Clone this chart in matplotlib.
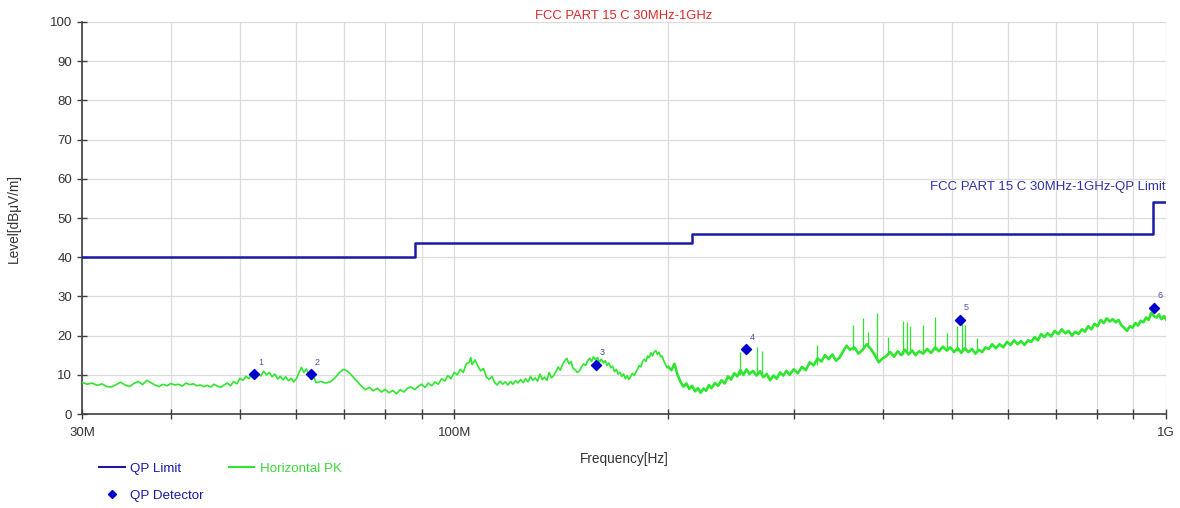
import numpy as np
import matplotlib.pyplot as plt
from matplotlib.lines import Line2D
from matplotlib.ticker import FixedLocator, NullFormatter

plt.rcParams['font.family'] = ['Liberation Sans', 'DejaVu Sans']

# limit line (MHz, dBuV/m)
limit_freq = [30, 88, 216, 960, 1000]
limit_level = [40, 43.5, 46, 54, 54]

# horizontal peak trace, 30M - 200M
pk_freq_lo = [30.0, 30.5, 31.0, 31.5, 32.0, 32.5, 33.0, 33.5, 34.0, 34.5, 35.0, 35.5,
              36.0, 36.5, 37.0, 37.5, 38.0, 38.5, 39.0, 39.5, 40.0, 40.5, 41.0, 41.5,
              42.0, 42.5, 43.0, 43.5, 44.0, 44.5, 45.0, 45.5, 46.0, 46.5, 47.0, 47.5,
              48.0, 48.5, 49.0, 49.5, 50.0, 50.5, 51.0, 51.5, 52.0, 52.5, 53.0, 53.5,
              54.0, 54.5, 55.0, 55.5, 56.0, 56.5, 57.0, 57.5, 58.0, 58.5, 59.0, 59.5,
              60.0, 60.5, 61.0, 61.5, 62.0, 62.5, 63.0, 63.5, 64.0, 65.0, 66.0, 67.0,
              68.0, 69.0, 70.0, 71.0, 72.0, 73.0, 74.0, 75.0, 76.0, 77.0, 78.0, 79.0,
              80.0, 81.0, 82.0, 83.0, 84.0, 85.0, 86.0, 87.0, 88.0, 89.0, 90.0, 91.0,
              92.0, 93.0, 94.0, 95.0, 96.0, 97.0, 98.0, 99.0, 100.0, 101.0, 102.0, 103.0,
              104.0, 105.0, 105.5, 106.0, 107.0, 108.0, 109.0, 110.0, 111.0, 112.0, 113.0,
              114.0, 115.0, 116.0, 117.0, 118.0, 119.0, 120.0, 121.0, 122.0, 123.0, 124.0,
              125.0, 126.0, 127.0, 128.0, 129.0, 130.0, 131.0, 132.0, 133.0, 134.0, 135.0,
              136.0, 137.0, 138.0, 139.0, 140.0, 141.0, 142.0, 143.0, 144.0, 145.0, 146.0,
              147.0, 148.0, 149.0, 150.0, 151.0, 152.0, 153.0, 154.0, 155.0, 156.0, 157.0,
              158.0, 159.0, 160.0, 161.0, 162.0, 163.0, 164.0, 165.0, 166.0, 167.0, 168.0,
              169.0, 170.0, 171.0, 172.0, 173.0, 174.0, 175.0, 176.0, 177.0, 178.0, 179.0,
              180.0, 181.0, 182.0, 183.0, 184.0, 185.0, 186.0, 187.0, 188.0, 189.0, 190.0,
              191.0, 192.0, 193.0, 194.0, 195.0, 196.0, 197.0, 198.0, 199.0, 200.0]
pk_level_lo = [8.1, 7.6, 7.9, 7.3, 7.7, 7.0, 6.9, 7.5, 8.1, 7.4, 7.0, 7.8,
               8.3, 7.5, 8.6, 8.0, 7.4, 7.0, 7.6, 7.2, 7.8, 7.4, 7.6, 7.1,
               7.9, 7.5, 7.7, 7.2, 7.4, 7.0, 7.3, 6.9, 7.6, 7.1, 6.8, 7.4,
               7.9, 7.2, 8.3, 7.7, 9.1, 8.6, 9.6, 9.0, 10.2, 9.4, 10.4, 9.7,
               10.9, 10.0, 10.6, 9.5, 10.2, 8.9, 9.6, 8.7, 9.5, 8.5, 9.1, 8.2,
               9.0, 10.4, 11.9, 10.6, 11.5, 10.0, 8.8, 9.4, 8.0, 8.3, 7.9, 8.2,
               9.2, 10.6, 11.4, 10.8, 9.6, 8.4, 7.2, 6.2, 6.8, 5.9, 6.6, 5.6,
               6.3, 5.4, 6.0, 5.2, 6.2, 5.6, 6.6, 6.9, 6.2, 7.0, 7.6, 6.8,
               7.9, 7.2, 8.2, 7.6, 9.0, 8.4, 9.8, 9.0, 10.6, 10.0, 11.4, 10.6,
               12.8, 13.2, 14.4, 12.6, 13.8, 12.2, 11.0, 11.6, 9.4, 8.8, 9.6,
               8.0, 7.4, 8.4, 7.6, 8.2, 7.4, 8.3, 7.6, 8.5, 7.9, 8.8,
               8.0, 9.0, 8.2, 9.6, 8.6, 9.2, 8.4, 10.2, 8.8, 9.4, 8.6,
               10.6, 9.2, 9.8, 10.8, 12.0, 11.2, 12.6, 13.6, 14.2, 12.8, 13.4,
               11.6, 11.2, 10.6, 11.0, 12.0, 12.8, 12.4, 13.6, 14.2, 13.4, 14.6,
               13.8, 14.4, 13.2, 14.0, 13.0, 13.6, 12.4, 13.0, 11.8, 12.2, 10.8,
               11.4, 10.2, 10.6, 9.6, 10.2, 9.0, 9.8, 8.8, 9.6, 10.4, 9.8,
               10.6, 11.4, 12.4, 12.0, 13.4, 14.0, 13.4, 14.8, 14.4, 15.6, 14.8,
               15.8, 16.2, 15.2, 15.8, 14.6, 14.8, 13.6, 12.8, 11.8, 12.0]

# horizontal peak trace, 200M - 1G
pk_freq_hi = [200, 202, 204, 206, 208, 210, 212, 214, 216, 218, 220, 222, 224, 226, 228,
              230, 232.5, 235, 237.5, 240, 242.5, 245, 247.5, 250, 252.5, 255, 257.5, 260,
              263, 266, 269, 272, 275, 278, 281, 284, 287, 290, 293, 296, 300, 304, 308,
              312, 316, 320, 324, 328, 332, 336, 340, 344, 348, 352, 356, 360, 365, 370,
              375, 380, 385, 390, 395, 400, 405, 410, 415, 420, 425, 430, 435, 440, 445,
              450, 456, 462, 468, 474, 480, 486, 492, 498, 504, 510, 516, 522, 528, 534,
              540, 546, 552, 558, 564, 570, 577, 584, 591, 598, 605, 612, 619, 626, 633,
              640, 647, 654, 661, 668, 675, 682, 690, 698, 706, 714, 722, 730, 738, 746,
              754, 762, 770, 778, 786, 794, 802, 810, 818, 826, 834, 842, 850, 858, 866,
              874, 882, 890, 898, 906, 914, 922, 930, 938, 946, 954, 962, 970, 978, 986,
              994, 1000]
pk_level_hi = [12.0, 11.2, 12.8, 10.0, 8.2, 7.0, 7.8, 6.4, 7.2, 5.8, 6.6, 5.4, 6.5, 5.9, 7.4,
               6.6, 7.9, 7.2, 8.6, 7.8, 9.6, 8.8, 10.4, 9.6, 11.2, 10.0, 11.4, 10.2,
               11.0, 9.8, 10.9, 9.4, 10.2, 8.6, 9.8, 9.0, 10.6, 9.8, 11.0, 10.0, 11.4, 10.4, 12.0,
               11.2, 13.2, 12.4, 14.2, 13.4, 15.0, 14.0, 15.2, 13.6, 14.4, 16.0, 17.4, 16.4, 17.0, 15.4,
               16.4, 17.8, 16.6, 15.0, 13.2, 14.2, 14.8, 15.8, 14.6, 16.0, 15.0, 16.4, 15.2, 16.2, 15.0,
               16.0, 15.4, 16.6, 15.6, 17.0, 16.0, 17.2, 16.2, 17.0, 15.8, 16.8, 15.6, 16.8, 15.8, 16.6,
               15.4, 16.4, 15.8, 17.0, 16.6, 17.8, 16.8, 17.8, 17.0, 18.4, 17.6, 18.8, 17.8, 18.6, 17.6,
               18.8, 18.4, 19.6, 18.8, 20.4, 19.6, 20.6, 19.8, 21.2, 20.4, 21.6, 20.6, 21.2, 20.0, 21.0,
               20.4, 21.6, 21.0, 22.4, 21.6, 23.0, 22.4, 24.0, 23.2, 24.4, 23.6, 24.2, 23.4, 24.0, 22.6,
               22.0, 21.2, 22.4, 22.0, 23.2, 22.6, 23.8, 23.4, 24.6, 24.0, 25.8, 25.0, 24.6, 25.4, 24.2,
               25.0, 24.2]

# narrow peaks above the trace
spike_freq = [252, 266, 271, 323, 363, 375, 381, 393, 407, 427, 433, 437,
              456, 474, 492, 508, 517, 522, 543]
spike_base = [10.0, 10.4, 10.0, 12.6, 16.4, 16.8, 17.2, 13.8, 15.0, 15.4, 15.8, 15.8,
              15.8, 16.4, 16.2, 16.0, 16.2, 16.4, 16.0]
spike_top = [15.9, 17.0, 16.2, 17.6, 22.6, 24.4, 21.0, 25.7, 19.7, 23.7, 23.6, 22.5,
             22.7, 24.8, 20.6, 22.5, 23.5, 22.7, 19.4]

# QP detector readings
qp_freq = [52.4, 62.9, 158.2, 257.0, 513.0, 961.0]
qp_level = [10.1, 10.1, 12.5, 16.5, 24.1, 27.0]
qp_label = ['1', '2', '3', '4', '5', '6']

green = '#2fe62f'
blue = '#1a1aa6'

fig = plt.figure(figsize=(11.8, 5.08), dpi=100)
ax = fig.add_axes([0.0695, 0.185, 0.9185, 0.7717])

ax.plot(pk_freq_lo, pk_level_lo, color=green, lw=1.2, zorder=3)
ax.plot(pk_freq_hi, pk_level_hi, color=green, lw=1.9, zorder=3)
ax.vlines(spike_freq, spike_base, spike_top, color=green, lw=0.9, zorder=3)
ax.step(limit_freq, limit_level, where='post', color=blue, lw=1.8, zorder=4)
ax.scatter(qp_freq, qp_level, marker='D', s=26, color='#0000cc', zorder=5)
for f, l, t in zip(qp_freq, qp_level, qp_label):
    ax.annotate(t, (f, l), xytext=(3, 7), textcoords='offset points',
                fontsize=6.5, color='#5050b0')

ax.text(1000, 57.8, 'FCC PART 15 C 30MHz-1GHz-QP Limit', color='#3030a8',
        fontsize=9.5, ha='right', va='center')

ax.set_xscale('log')
ax.set_xlim(30, 1000)
ax.set_ylim(0, 100)
ax.xaxis.set_major_locator(FixedLocator([30, 100, 1000]))
ax.set_xticklabels(['30M', '100M', '1G'])
ax.xaxis.set_minor_locator(FixedLocator([40, 50, 60, 70, 80, 90, 200, 300, 400, 500,
                                         600, 700, 800, 900]))
ax.xaxis.set_minor_formatter(NullFormatter())
ax.set_yticks(range(0, 101, 10))
ax.grid(True, which='both', color='#dcdcdc', lw=0.9, zorder=0)
ax.set_axisbelow(True)
ax.tick_params(which='both', direction='inout', length=7, width=1, color='#404040',
               labelsize=9.5, labelcolor='#333333')
ax.tick_params(axis='x', pad=6)
for s in ['top', 'right']:
    ax.spines[s].set_visible(False)
for s in ['left', 'bottom']:
    ax.spines[s].set_color('#404040')
    ax.spines[s].set_linewidth(1.2)

ax.set_xlabel('Frequency[Hz]', fontsize=9.8, color='#333333', labelpad=9)
ax.set_ylabel('Level[dBμV/m]', fontsize=9.8, color='#333333', labelpad=21)
ax.set_title('FCC PART 15 C 30MHz-1GHz', fontsize=9.4, color='#e02828', pad=2)

handles = [Line2D([], [], color=blue, lw=1.5),
           Line2D([], [], color='none', marker='D', markersize=4,
                  markerfacecolor='#0000cc', markeredgecolor='#0000cc'),
           Line2D([], [], color=green, lw=1.5)]
leg = fig.legend(handles, ['QP Limit', 'QP Detector', 'Horizontal PK'], ncol=2,
                 loc='upper left', bbox_to_anchor=(0.074, 0.113), frameon=False,
                 fontsize=9.6, handlelength=1.9, handletextpad=0.4,
                 columnspacing=1.9, labelspacing=1.1)
for txt, c in zip(leg.get_texts(), [blue, blue, '#3dd63d']):
    txt.set_color(c)

fig.savefig('out.png', dpi=100)
